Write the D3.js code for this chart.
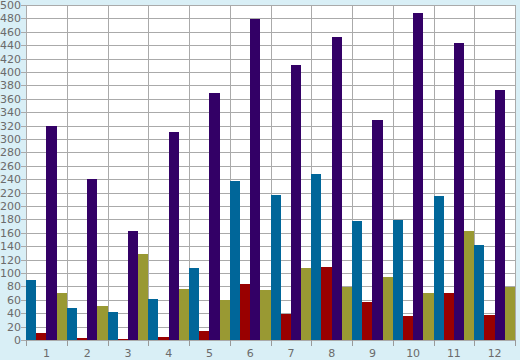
<!DOCTYPE html>
<html><head><meta charset="utf-8">
<script src="https://cdn.jsdelivr.net/npm/d3@7/dist/d3.min.js"></script>
<style>body{margin:0;background:#d9eff6;}svg{display:block;}</style>
</head><body><svg id="c" width="520" height="360"></svg>
<script>
const categories = ["1","2","3","4","5","6","7","8","9","10","11","12"];
const seriesNames = ["A","B","C","D"];
const blueValues   = [90, 48, 42, 61, 108, 237, 216, 248, 178, 179, 215, 142];
const redValues    = [10, 3, 2, 5, 14, 84, 39, 109, 57, 36, 70, 37];
const purpleValues = [319, 240, 163, 310, 369, 479, 410, 452, 328, 488, 443, 373];
const oliveValues  = [70, 51, 129, 76, 60, 75, 108, 79, 94, 70, 163, 79];
const yTicks = d3.range(0, 501, 20);
const colors = ["#006699", "#990000", "#330066", "#999933"];

const series = [blueValues, redValues, purpleValues, oliveValues];
const svg = d3.select("#c");
const L = 26, R = 515, T = 5, B = 340;
svg.append("rect").attr("width",520).attr("height",360).attr("fill","#d9eff6");
svg.append("rect").attr("x",L).attr("y",T).attr("width",R-L).attr("height",B-T).attr("fill","#fff");

const x = d3.scaleBand().domain(categories).range([L, R]).padding(0);
const xs = d3.scaleBand().domain(d3.range(4)).range([0, x.bandwidth()]).padding(0);
const y = d3.scaleLinear().domain([0, 500]).range([B, T]);

// horizontal grid + y ticks
svg.append("g").selectAll("line").data(yTicks).join("line")
  .attr("x1", L-5).attr("x2", R).attr("y1", d=>Math.round(y(d))+0.5).attr("y2", d=>Math.round(y(d))+0.5)
  .attr("stroke","#aaaaaa").attr("stroke-width",1);
// vertical grid
const bounds = categories.map(c=>x(c)).concat([R]);
svg.append("g").selectAll("line").data(bounds).join("line")
  .attr("x1", d=>Math.round(d)+0.5).attr("x2", d=>Math.round(d)+0.5).attr("y1", T).attr("y2", B)
  .attr("stroke","#aaaaaa").attr("stroke-width",1);

// bars
const g = svg.append("g");
categories.forEach((c, i) => {
  series.forEach((s, j) => {
    const x0 = x(c) + xs(j);
    g.append("rect")
      .attr("x", x0).attr("width", xs.bandwidth())
      .attr("y", y(s[i])).attr("height", B - y(s[i]))
      .attr("fill", colors[j]).attr("shape-rendering","crispEdges");
  });
});

// x ticks below
svg.append("g").selectAll("line").data(bounds).join("line")
  .attr("x1", d=>Math.round(d)+0.5).attr("x2", d=>Math.round(d)+0.5).attr("y1", B).attr("y2", B+6)
  .attr("stroke","#999999");

// labels
svg.append("g").selectAll("text").data(yTicks).join("text")
  .attr("x", 21).attr("y", d=>y(d)+4).attr("text-anchor","end")
  .attr("font-family","DejaVu Sans, Verdana, sans-serif").attr("font-size",11).attr("fill","#6b6b6b")
  .text(d=>d);
svg.append("g").selectAll("text").data(categories).join("text")
  .attr("x", d=>x(d)+x.bandwidth()/2).attr("y", 357).attr("text-anchor","middle")
  .attr("font-family","DejaVu Sans, Verdana, sans-serif").attr("font-size",11).attr("fill","#6b6b6b")
  .text(d=>d);
</script></body></html>
